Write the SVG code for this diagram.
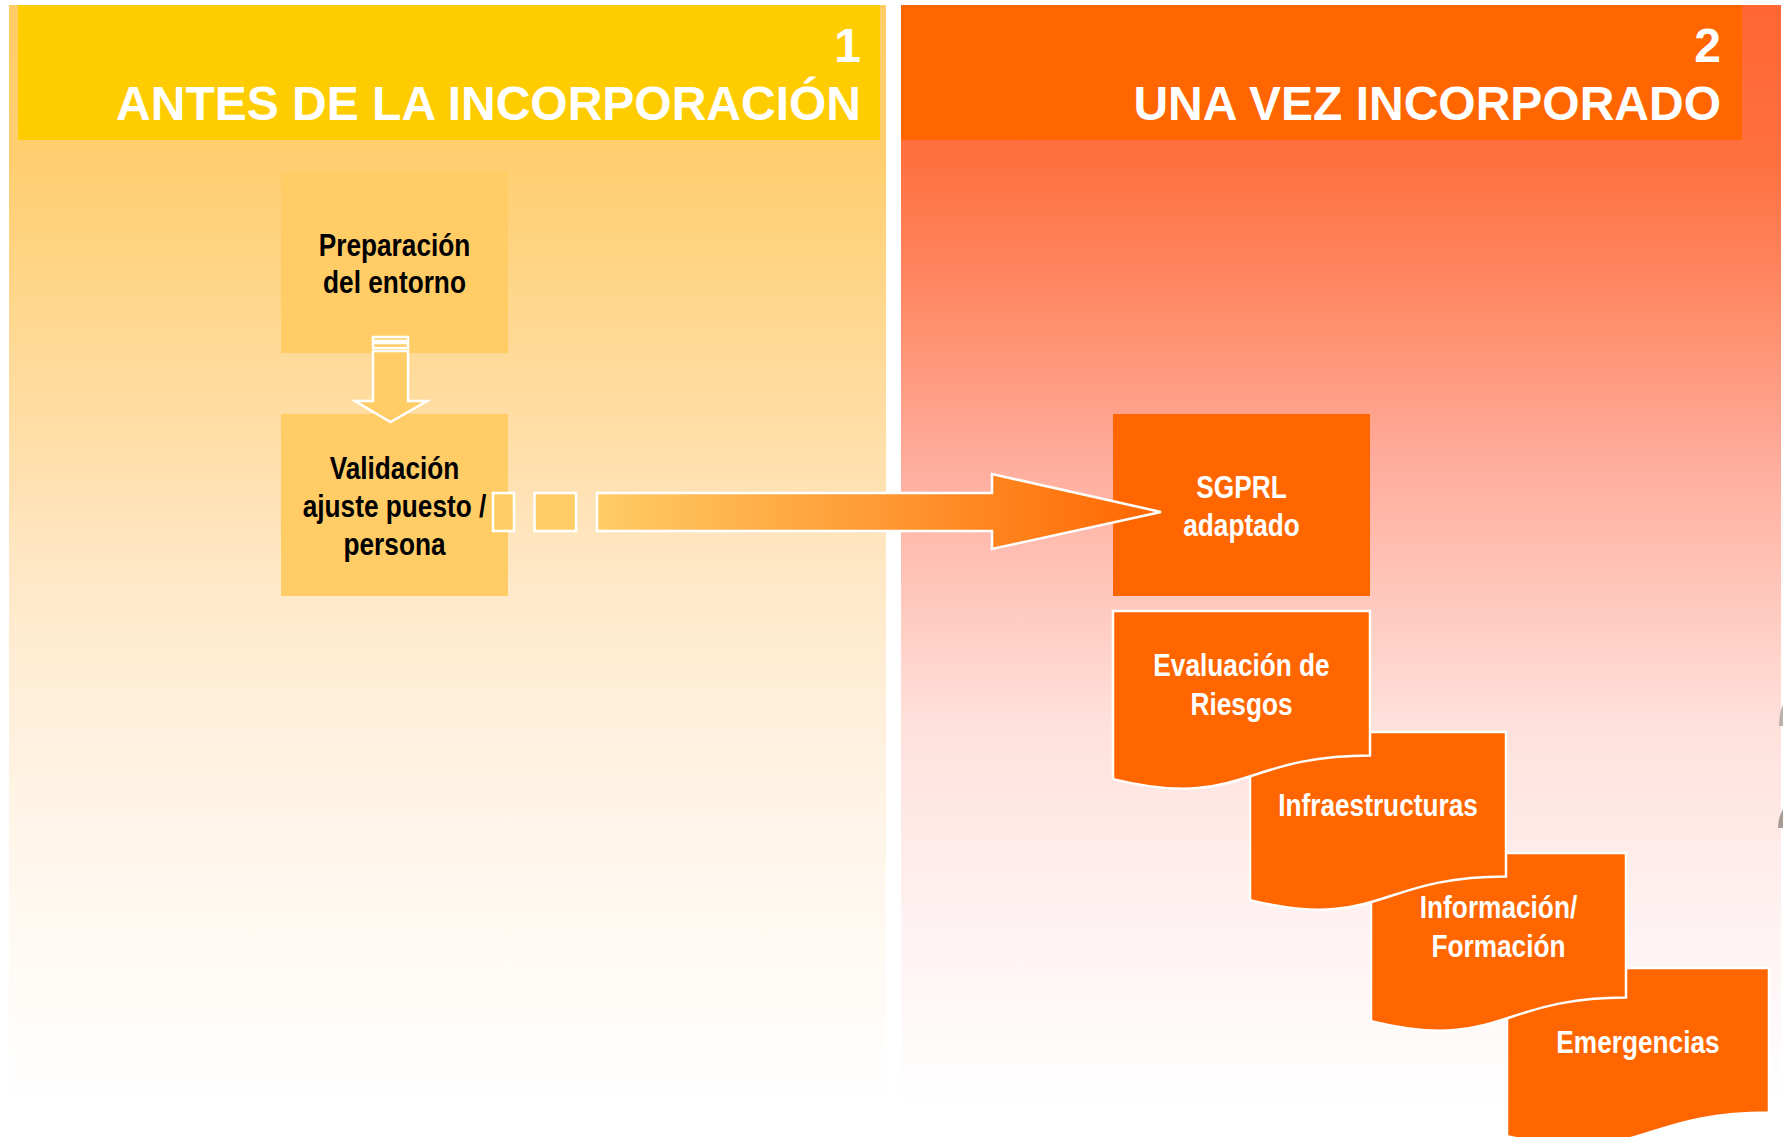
<svg xmlns="http://www.w3.org/2000/svg" width="1783" height="1137" viewBox="0 0 1783 1137">
<defs>
<linearGradient id="g1" gradientUnits="userSpaceOnUse" x1="0" y1="5" x2="0" y2="1105">
<stop offset="0" stop-color="#FFCC66"/>
<stop offset="0.141" stop-color="#FFCE70"/>
<stop offset="0.405" stop-color="#FFDFAA"/>
<stop offset="0.523" stop-color="#FFE8C8"/>
<stop offset="0.65" stop-color="#FFF0DC"/>
<stop offset="0.814" stop-color="#FFF8F0"/>
<stop offset="1" stop-color="#FFFFFF"/>
</linearGradient>
<linearGradient id="g2" gradientUnits="userSpaceOnUse" x1="0" y1="5" x2="0" y2="1105">
<stop offset="0" stop-color="#FF6633"/>
<stop offset="0.141" stop-color="#FF7040"/>
<stop offset="0.268" stop-color="#FF8A66"/>
<stop offset="0.405" stop-color="#FFAA99"/>
<stop offset="0.523" stop-color="#FFC4B8"/>
<stop offset="0.65" stop-color="#FFE0DA"/>
<stop offset="0.814" stop-color="#FFF0F0"/>
<stop offset="1" stop-color="#FFFFFF"/>
</linearGradient>
<linearGradient id="ga" gradientUnits="userSpaceOnUse" x1="600" y1="0" x2="1160" y2="0">
<stop offset="0" stop-color="#FFCC66"/>
<stop offset="1" stop-color="#FF6600"/>
</linearGradient>
<style>
.hd{font-family:"Liberation Sans",Arial,sans-serif;font-weight:bold;font-size:48px;fill:#FFFFFF;text-anchor:end}
.lb{font-family:"Liberation Sans",Arial,sans-serif;font-weight:bold;font-size:32px;text-anchor:middle}
.dk{fill:#000000}
.wt{fill:#FFFFFF}
.box1{fill:#FFCC66}
.box2{fill:#FF6600}
.doc{fill:#FF6600;stroke:#FFFFFF;stroke-width:2.5}
.arr{stroke:#FFFFFF;stroke-width:2.5;stroke-linejoin:miter}
</style>
</defs>
<rect width="1783" height="1137" fill="#FFFFFF"/>
<g id="panel1">
<rect x="9" y="5" width="877" height="1100" fill="url(#g1)"/>
<rect x="18" y="5" width="862" height="135" fill="#FFCC00"/>
<text class="hd" x="861" y="62">1</text>
<text class="hd" x="861" y="120">ANTES DE LA INCORPORACIÓN</text>
</g>
<g id="panel2">
<rect x="901" y="5" width="880" height="1100" fill="url(#g2)"/>
<rect x="901" y="5" width="841" height="135" fill="#FF6600"/>
<text class="hd" x="1721" y="62">2</text>
<text class="hd" x="1721" y="120">UNA VEZ INCORPORADO</text>
</g>
<g id="decor">
<path d="M1783,705 Q1779,712 1779,726 L1783,726 Z" fill="#BDB2AA"/>
<path d="M1783,809 Q1778,818 1778,828 L1783,828 Z" fill="#A89C94"/>
</g>
<g id="node-preparacion">
<rect class="box1" x="281" y="172" width="227" height="181"/>
<text class="lb dk" transform="matrix(0.82,0,0,1,394.5,256)">Preparación</text>
<text class="lb dk" transform="matrix(0.82,0,0,1,394.5,293)">del entorno</text>
</g>
<g id="node-validacion">
<rect class="box1" x="281" y="414" width="227" height="182"/>
<text class="lb dk" transform="matrix(0.82,0,0,1,394.5,479)">Validación</text>
<text class="lb dk" transform="matrix(0.82,0,0,1,394.5,517)">ajuste puesto /</text>
<text class="lb dk" transform="matrix(0.82,0,0,1,394.5,555)">persona</text>
</g>
<g id="node-sgprl">
<rect class="box2" x="1113" y="414" width="257" height="182"/>
<text class="lb wt" transform="matrix(0.82,0,0,1,1241.5,498)">SGPRL</text>
<text class="lb wt" transform="matrix(0.82,0,0,1,1241.5,536)">adaptado</text>
</g>
<g id="connectors">
<g id="arrow-down" class="arr" fill="#FFCC66">
<rect x="373" y="337" width="35" height="4"/>
<rect x="373" y="343" width="35" height="5"/>
<polygon points="373,351 408,351 408,401 427,401 390.5,422 355,401 373,401"/>
</g>
<g id="arrow-right" class="arr">
<rect x="493" y="493" width="21" height="38" fill="#FFCC66"/>
<rect x="534.5" y="493" width="41.5" height="38" fill="#FFCC66"/>
<polygon points="597,493 992,493 992,474 1161,512 992,549 992,531 597,531" fill="url(#ga)"/>
</g>
</g>
<g id="node-emergencias">
<path class="doc" d="M1507,968 H1769 V1112.4 C1638,1112.4 1638,1167.4 1507,1136.1 Z"/>
<text class="lb wt" transform="matrix(0.82,0,0,1,1638,1053)">Emergencias</text>
</g>
<g id="node-informacion">
<path class="doc" d="M1371,853 H1626 V997.4 C1498.5,997.4 1498.5,1052.4 1371,1021.1 Z"/>
<text class="lb wt" transform="matrix(0.82,0,0,1,1498.5,918)">Información/</text>
<text class="lb wt" transform="matrix(0.82,0,0,1,1498.5,957)">Formación</text>
</g>
<g id="node-infraestructuras">
<path class="doc" d="M1250,732 H1506 V876.4 C1378,876.4 1378,931.4 1250,900.1 Z"/>
<text class="lb wt" transform="matrix(0.82,0,0,1,1378,816)">Infraestructuras</text>
</g>
<g id="node-evaluacion">
<path class="doc" d="M1113,611 H1370 V755.4 C1241.5,755.4 1241.5,810.4 1113,779.1 Z"/>
<text class="lb wt" transform="matrix(0.82,0,0,1,1241.5,676)">Evaluación de</text>
<text class="lb wt" transform="matrix(0.82,0,0,1,1241.5,715)">Riesgos</text>
</g>
</svg>
